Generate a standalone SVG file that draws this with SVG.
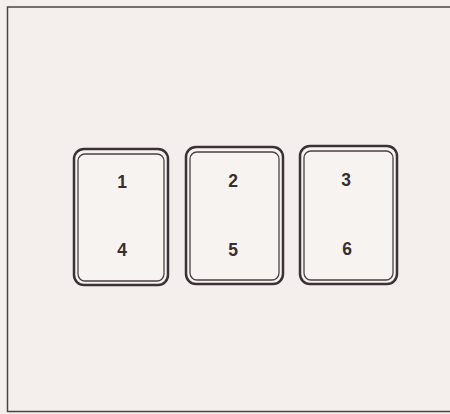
<svg xmlns="http://www.w3.org/2000/svg" width="450" height="414" viewBox="0 0 450 414">
<style>
.bg{fill:#f4efec}
.frame{fill:none;stroke:#4a4446;stroke-width:1.5}
.outer{fill:#f7f3f1;stroke:#3a3234;stroke-width:2.5}
.inner{fill:none;stroke:#4a4244;stroke-width:1.3}
.lbl{font-family:"Liberation Sans",Arial,sans-serif;font-size:17.5px;font-weight:bold;fill:#363032;text-anchor:middle;dominant-baseline:central}
</style>
<rect class="bg" x="0" y="0" width="450" height="414"/>
<path class="frame" d="M450 7 H7.5 V411.5 H450"/>
<g id="box1">
<rect class="outer" x="74" y="149" width="94" height="136" rx="10"/>
<rect class="inner" x="78" y="154" width="86" height="127" rx="7"/>
<text class="lbl" x="122" y="182">1</text>
<text class="lbl" x="122" y="250">4</text>
</g>
<g id="box2">
<rect class="outer" x="186" y="147" width="97" height="137" rx="10"/>
<rect class="inner" x="190" y="152" width="89" height="128" rx="7"/>
<text class="lbl" x="233" y="181">2</text>
<text class="lbl" x="233" y="250">5</text>
</g>
<g id="box3">
<rect class="outer" x="300" y="146" width="97" height="138" rx="10"/>
<rect class="inner" x="304" y="151" width="89" height="129" rx="7"/>
<text class="lbl" x="346" y="180">3</text>
<text class="lbl" x="347" y="249">6</text>
</g>
<g id="connectors"></g>
</svg>
